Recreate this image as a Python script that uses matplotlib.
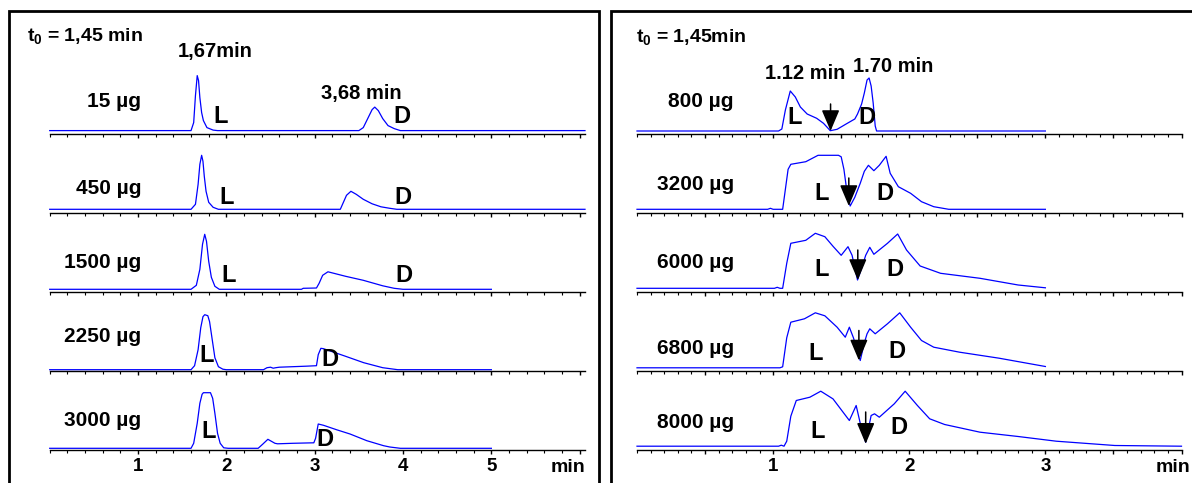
import matplotlib
matplotlib.use("Agg")
import matplotlib.pyplot as plt
from matplotlib.patches import Rectangle
from matplotlib.ticker import FixedLocator, MultipleLocator, FuncFormatter

plt.rcParams['font.family'] = ['Liberation Sans', 'DejaVu Sans']
plt.rcParams['font.weight'] = 'bold'
plt.rcParams['mathtext.fontset'] = 'custom'
plt.rcParams['mathtext.rm'] = 'Liberation Sans:bold'
plt.rcParams['mathtext.bf'] = 'Liberation Sans:bold'

W, H = 1192, 483
TRACE_COLOR = '#0000ff'

# ---------------- left panel: loading series (time in min, signal) ----------------
LEFT_LOADS = ['15 µg', '450 µg', '1500 µg', '2250 µg', '3000 µg']
LEFT_BASE = [3.4, 3.7, 2.7, 1.3, 1.7]

L15_T = [0, 1.58, 1.60, 1.63, 1.65, 1.67, 1.685, 1.70, 1.72, 1.74, 1.78, 1.85, 1.90,
         3.50, 3.55, 3.60, 3.65, 3.68, 3.72, 3.77, 3.83, 3.90, 3.97, 6.06]
L15_S = [0, 0, 0, 8, 35, 55, 50, 33, 18, 10, 3, 0.5, 0,
         0, 3, 12, 21, 23.5, 20, 12, 5, 2, 0, 0]

L450_T = [0, 1.60, 1.65, 1.68, 1.70, 1.72, 1.735, 1.75, 1.77, 1.80, 1.85, 1.91,
          3.29, 3.32, 3.36, 3.41, 3.47, 3.55, 3.65, 3.75, 3.85, 3.93, 6.06]
L450_S = [0, 0, 5, 25, 45, 54, 48, 33, 18, 7, 2, 0,
          0, 6, 14, 18, 15, 10, 5.5, 2.5, 1, 0, 0]

L1500_T = [0, 1.60, 1.66, 1.70, 1.73, 1.755, 1.775, 1.80, 1.83, 1.87, 1.92,
           2.85, 2.87, 3.02, 3.05, 3.09, 3.15, 3.35, 3.55, 3.77, 3.90, 4.0, 5.0]
L1500_S = [0, 0, 4, 20, 45, 55, 48, 28, 12, 3, 0,
           0, 1, 1.3, 6, 14, 17.5, 13, 9, 3.5, 1, 0, 0]

L2250_T = [0, 1.60, 1.64, 1.68, 1.71, 1.735, 1.755, 1.79, 1.81, 1.84, 1.87, 1.91, 1.96, 2.0,
           2.42, 2.46, 2.50, 2.53, 2.56, 2.60, 2.90, 3.02, 3.04, 3.07, 3.10, 3.34, 3.555,
           3.77, 3.94, 5.0]
L2250_S = [0, 0, 4, 20, 42, 53, 55, 54, 48, 30, 12, 3, 0.5, 0,
           0, 2, 2.5, 1.5, 2, 2.5, 3.5, 4, 15, 21.4, 21, 13.7, 7,
           2, 0, 0]

L3000_T = [0, 1.60, 1.63, 1.67, 1.70, 1.725, 1.74, 1.82, 1.845, 1.87, 1.90, 1.93, 1.97, 2.02,
           2.36, 2.41, 2.47, 2.51, 2.55, 2.58, 2.75, 2.99, 3.01, 3.04, 3.10, 3.25, 3.40,
           3.59, 3.78, 3.85, 3.97, 5.0]
L3000_S = [0, 0, 5, 25, 45, 54, 55.6, 55.6, 50, 35, 15, 5, 0.5, 0,
           0, 4, 9, 7, 5, 4.5, 5, 5.5, 10, 24.3, 23, 18.5, 14.3,
           7.6, 2.6, 1.3, 0, 0]

LEFT_T = [L15_T, L450_T, L1500_T, L2250_T, L3000_T]
LEFT_S = [L15_S, L450_S, L1500_S, L2250_S, L3000_S]

# label positions (time, height above axis)
LEFT_LOAD_Y = [32, 25, 29, 35, 29]
LEFT_L_POS = [(1.93, 17), (2.00, 16), (2.02, 17), (1.78, 15), (1.80, 18)]
LEFT_D_POS = [(3.99, 17), (4.00, 16), (4.01, 17), (3.17, 11), (3.12, 11)]

# ---------------- right panel ----------------
RIGHT_LOADS = ['800 µg', '3200 µg', '6000 µg', '6800 µg', '8000 µg']
RIGHT_BASE = [3.0, 3.7, 3.7, 3.2, 3.8]

R800_T = [0, 1.04, 1.064, 1.09, 1.126, 1.163, 1.20, 1.25, 1.32, 1.37, 1.42, 1.47, 1.545,
          1.60, 1.62, 1.65, 1.67, 1.69, 1.705, 1.72, 1.735, 1.75, 1.76, 3.0]
R800_S = [0, 0, 2, 21, 40, 34, 24, 17, 12.7, 7.7, 0.3, 1.7, 7.7,
          12, 17, 27, 38, 51, 53, 45, 28, 5, 0, 0]

R3200_T = [0, 0.96, 0.98, 1.0, 1.07, 1.09, 1.11, 1.13, 1.24, 1.33, 1.48, 1.50, 1.52, 1.545,
           1.566, 1.60, 1.64, 1.67, 1.70, 1.74, 1.78, 1.83, 1.86, 1.92, 2.01, 2.09, 2.18,
           2.29, 3.0]
R3200_S = [0, 0, 1, 0, 0, 20, 40, 45, 47.6, 54, 54, 52.5, 40, 15,
           3.3, 12, 26, 38, 44, 38.6, 44, 53, 36, 22.6, 16, 7.6, 2.6,
           0, 0]

R6000_T = [0, 1.01, 1.03, 1.05, 1.07, 1.10, 1.13, 1.24, 1.31, 1.38, 1.44, 1.50, 1.55, 1.58,
           1.62, 1.65, 1.68, 1.71, 1.74, 1.84, 1.915, 1.98, 2.08, 2.23, 2.52, 2.80, 3.0]
R6000_S = [0, 0, 1, 0, 0, 25, 45, 48, 55, 51.6, 42, 33, 41.6, 33,
           8.3, 20, 33, 41, 34, 45, 54.3, 38.3, 22.3, 15, 10, 3.3, 0.5]

R6800_T = [0, 1.05, 1.07, 1.10, 1.13, 1.23, 1.31, 1.38, 1.47, 1.53, 1.56, 1.59, 1.64, 1.67,
           1.69, 1.71, 1.75, 1.84, 1.93, 2.01, 2.09, 2.18, 2.37, 2.66, 3.0]
R6800_S = [0, 0, 1, 30, 45.6, 49, 55, 52, 40.6, 30.6, 40.6, 30, 7.3, 25,
           34, 39, 34, 44, 55, 40.6, 27.3, 20.6, 15.6, 9.6, 1.3]

R8000_T = [0, 1.04, 1.06, 1.08, 1.10, 1.13, 1.17, 1.27, 1.35, 1.44, 1.56, 1.61, 1.645, 1.68,
           1.72, 1.745, 1.78, 1.89, 1.97, 2.06, 2.15, 2.26, 2.52, 2.80, 3.08, 3.51, 4.0]
R8000_S = [0, 0, 1, 0, 5, 30, 45.7, 49, 55, 47.3, 25.7, 40.7, 20, 4,
           30.7, 32.4, 29, 42.4, 55, 40.7, 27.4, 21.7, 14, 9.7, 5, 0.7, 0]

RIGHT_T = [R800_T, R3200_T, R6000_T, R6800_T, R8000_T]
RIGHT_S = [R800_S, R3200_S, R6000_S, R6800_S, R8000_S]

RIGHT_LOAD_Y = [32, 28, 29, 22, 27]
RIGHT_L_POS = [(1.156, 16), (1.354, 20), (1.354, 22), (1.311, 17), (1.326, 18)]
RIGHT_D_POS = [(1.689, 16), (1.822, 20), (1.893, 22), (1.907, 19), (1.921, 22)]
# arrows marking the cut point: time, tip height, tail height
ARROW_T = [1.422, 1.556, 1.622, 1.63, 1.68]
ARROW_TIP = [3.0, 7.0, 12.0, 10.5, 6.2]
ARROW_TAIL = [30, 35, 42, 40.5, 38]

ROW_BOTTOM_PX = [134, 213, 292, 371, 450]
ROW_H_PX = 79


def setup_axis(ax, xmax, major, minor, labeled, show_labels):
    ax.set_xlim(0, xmax)
    ax.set_ylim(0, ROW_H_PX)
    for s in ('top', 'left', 'right'):
        ax.spines[s].set_visible(False)
    ax.spines['bottom'].set_linewidth(1.0)
    ax.patch.set_alpha(0)
    ax.set_yticks([])
    ax.xaxis.set_major_locator(FixedLocator(major))
    ax.xaxis.set_minor_locator(MultipleLocator(minor))
    ax.tick_params(axis='x', which='major', direction='out', length=3.2, width=1.0,
                   pad=2.5, labelsize=13.5)
    ax.tick_params(axis='x', which='minor', direction='out', length=2.0, width=0.8)
    if show_labels:
        ax.xaxis.set_major_formatter(FuncFormatter(
            lambda v, p: f'{int(round(v))}' if any(abs(v - l) < 1e-6 for l in labeled) else ''))
    else:
        ax.xaxis.set_major_formatter(FuncFormatter(lambda v, p: ''))


fig = plt.figure(figsize=(W / 100, H / 100), dpi=100)

# panel frames
fig.add_artist(Rectangle((9 / W, -0.1), 590 / W, 1.1 - 11 / H, transform=fig.transFigure,
                         fill=False, lw=2.0, ec='black'))
fig.add_artist(Rectangle((611 / W, -0.1), 0.6, 1.1 - 11 / H, transform=fig.transFigure,
                         fill=False, lw=2.0, ec='black'))

left_x0, left_x1 = 49.7, 585.0
right_x0, right_x1 = 637.0, 1181.5

for i in range(5):
    bottom = 1 - ROW_BOTTOM_PX[i] / H
    ax = fig.add_axes([left_x0 / W, bottom, (left_x1 - left_x0) / W, ROW_H_PX / H])
    setup_axis(ax, 6.06, [1, 2, 3, 4, 5, 6], 0.2, [1, 2, 3, 4, 5], i == 4)
    ax.plot(LEFT_T[i], [s + LEFT_BASE[i] for s in LEFT_S[i]], color=TRACE_COLOR, lw=0.9,
            clip_on=False)
    ax.text(1.034, LEFT_LOAD_Y[i], LEFT_LOADS[i], ha='right', va='center', fontsize=15)
    ax.text(*LEFT_L_POS[i], 'L', ha='center', va='center', fontsize=17)
    ax.text(*LEFT_D_POS[i], 'D', ha='center', va='center', fontsize=17)
    if i == 0:
        ax.text(1.874, 82, '1,67min', ha='center', va='center', fontsize=14.5)
        ax.text(3.526, 40, '3,68 min', ha='center', va='center', fontsize=14.5)

    ax = fig.add_axes([right_x0 / W, bottom, (right_x1 - right_x0) / W, ROW_H_PX / H])
    setup_axis(ax, 4.0, [0.5 * k for k in range(1, 9)], 0.1, [1, 2, 3], i == 4)
    ax.plot(RIGHT_T[i], [s + RIGHT_BASE[i] for s in RIGHT_S[i]], color=TRACE_COLOR, lw=0.9,
            clip_on=False)
    ax.text(0.711, RIGHT_LOAD_Y[i], RIGHT_LOADS[i], ha='right', va='center', fontsize=15)
    ax.text(*RIGHT_L_POS[i], 'L', ha='center', va='center', fontsize=17)
    ax.text(*RIGHT_D_POS[i], 'D', ha='center', va='center', fontsize=17)
    ax.annotate('', xy=(ARROW_T[i], ARROW_TIP[i]), xytext=(ARROW_T[i], ARROW_TAIL[i]),
                arrowprops=dict(arrowstyle='-|>,head_length=1.3,head_width=0.55',
                                mutation_scale=10, color='black', lw=1.1,
                                shrinkA=0, shrinkB=0))
    if i == 0:
        ax.text(1.237, 60, '1.12 min', ha='center', va='center', fontsize=14.5)
        ax.text(1.88, 67, '1.70 min', ha='center', va='center', fontsize=14.5)

# corner annotations
fig.text(27 / W, 1 - 36 / H, r'$\mathbf{t_0}$ = 1,45 min', ha='left', va='center', fontsize=14)
fig.text(636 / W, 1 - 37 / H, r'$\mathbf{t_0}$ = 1,45min', ha='left', va='center', fontsize=14)
fig.text(568 / W, 1 - 468 / H, 'min', ha='center', va='center', fontsize=14)
fig.text(1190 / W, 1 - 468 / H, 'min', ha='right', va='center', fontsize=14)

fig.savefig('out.png', dpi=100)
